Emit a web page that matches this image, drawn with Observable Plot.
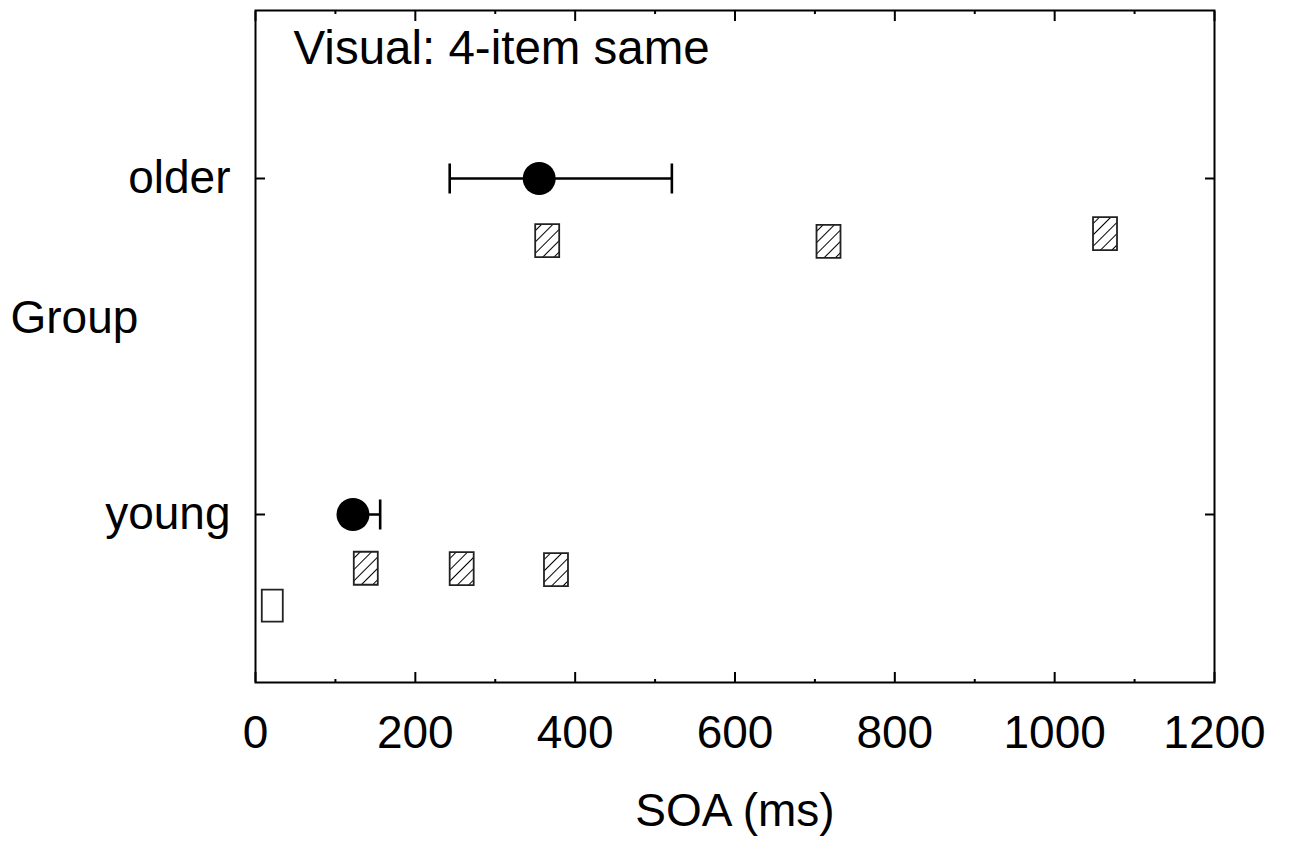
<!DOCTYPE html>
<html>
<head>
<meta charset="utf-8">
<script src="https://cdn.jsdelivr.net/npm/d3@7"></script>
<script src="https://cdn.jsdelivr.net/npm/@observablehq/plot@0.6"></script>
<style>
  html, body { margin: 0; padding: 0; background: white; }
</style>
</head>
<body>
<div id="chart"></div>
<script>
// ---- data ----
const groupNames = ["young", "older"];       // y tick labels
const groupPos = [1, 2];                      // group positions on y
const meanSOA = [122, 355];                   // filled circle
const lowSOA = [116, 243];                    // error bar lower end
const highSOA = [156, 521];                   // error bar upper end

// individual points (hatched / open boxes)
const indivSOA = [365, 717, 1063, 138, 258, 376, 21];
const indivY = [1.815, 1.813, 1.836, 0.840, 0.839, 0.836, 0.729];
const indivType = ["hatched", "hatched", "hatched", "hatched", "hatched", "hatched", "open"];

const xMajor = [0, 200, 400, 600, 800, 1000, 1200];
const xMinor = [100, 300, 500, 700, 900, 1100];

const titleText = "Visual: 4-item same";
const xLabel = "SOA (ms)";
const yLabel = "Group";

// ---- build tables ----
const summary = groupNames.map((g, i) => ({group: g, y: groupPos[i], mean: meanSOA[i], lo: lowSOA[i], hi: highSOA[i]}));
const caps = summary.flatMap(d => [{y: d.y, x: d.lo}, {y: d.y, x: d.hi}]);
const indiv = indivSOA.map((x, i) => ({x, y: indivY[i], type: indivType[i]}));

const rectSymbol = (w, h) => ({
  draw(ctx) {
    ctx.moveTo(-w / 2, -h / 2);
    ctx.lineTo(w / 2, -h / 2);
    ctx.lineTo(w / 2, h / 2);
    ctx.lineTo(-w / 2, h / 2);
    ctx.closePath();
  }
});
const capSymbol = {draw(ctx) { ctx.moveTo(0, -15); ctx.lineTo(0, 15); }};

const FONT = 46;

const chart = Plot.plot({
  width: 1290,
  height: 842,
  marginLeft: 255,
  marginRight: 76,
  marginTop: 10,
  marginBottom: 160,
  style: {fontFamily: "'Liberation Sans', Arial, sans-serif", background: "white", color: "black"},
  x: {domain: [0, 1200], label: null},
  y: {domain: [0.5, 2.5], label: null},
  marks: [
    // tick marks (inward)
    Plot.axisX({anchor: "bottom", ticks: xMajor, tickSize: -10, tickFormat: () => "", strokeWidth: 2, label: null}),
    Plot.axisX({anchor: "bottom", ticks: xMinor, tickSize: -3, tickFormat: () => "", strokeWidth: 2, label: null}),
    Plot.axisX({anchor: "top", ticks: xMajor, tickSize: -10, tickFormat: () => "", strokeWidth: 2, label: null}),
    Plot.axisX({anchor: "top", ticks: xMinor, tickSize: -3, tickFormat: () => "", strokeWidth: 2, label: null}),
    Plot.axisY({anchor: "left", ticks: groupPos, tickSize: -10, tickFormat: () => "", strokeWidth: 2, label: null}),
    Plot.axisY({anchor: "right", ticks: groupPos, tickSize: -10, tickFormat: () => "", strokeWidth: 2, label: null}),
    // tick labels
    Plot.axisX({anchor: "bottom", ticks: xMajor, tickSize: 0, tickPadding: 33, fontSize: FONT, label: null,
                tickFormat: d3.format("d")}),
    Plot.axisY({anchor: "left", ticks: groupPos, tickSize: 0, tickPadding: 25, fontSize: FONT, label: null,
                tickFormat: d => groupNames[groupPos.indexOf(d)]}),
    Plot.frame({stroke: "black", strokeWidth: 2}),
    // error bars
    Plot.ruleY(summary, {y: "y", x1: "lo", x2: "hi", stroke: "black", strokeWidth: 2.6}),
    Plot.dot(caps, {x: "x", y: "y", symbol: capSymbol, stroke: "black", strokeWidth: 2.6, fill: "none"}),
    Plot.dot(summary, {x: "mean", y: "y", r: 16.5, fill: "black", stroke: "none"}),
    // individual boxes
    Plot.dot(indiv.filter(d => d.type === "hatched"), {x: "x", y: "y", symbol: rectSymbol(24, 33), fill: "url(#hatch)", stroke: "#222", strokeWidth: 1.8}),
    Plot.dot(indiv.filter(d => d.type === "open"), {x: "x", y: "y", symbol: rectSymbol(21, 32), fill: "white", stroke: "#222", strokeWidth: 1.8}),
    // texts
    Plot.text([titleText], {text: d => d, frameAnchor: "top-left", textAnchor: "start", lineAnchor: "top", dx: 38, dy: 20, fontSize: 47.5, fill: "black"}),
    Plot.text([yLabel], {text: d => d, frameAnchor: "left", textAnchor: "start", dx: -245, dy: -28, fontSize: FONT, fill: "black"}),
    Plot.text([xLabel], {text: d => d, frameAnchor: "bottom", textAnchor: "middle", lineAnchor: "top", dy: 111, fontSize: FONT, fill: "black"})
  ]
});

d3.select(chart).insert("defs", ":first-child").html(
  `<pattern id="hatch" patternUnits="userSpaceOnUse" width="8" height="8" patternTransform="rotate(45)">
     <rect width="8" height="8" fill="white"/>
     <line x1="0" y1="0" x2="0" y2="8" stroke="black" stroke-width="2"/>
   </pattern>`
);

document.getElementById("chart").appendChild(chart);
</script>
</body>
</html>
